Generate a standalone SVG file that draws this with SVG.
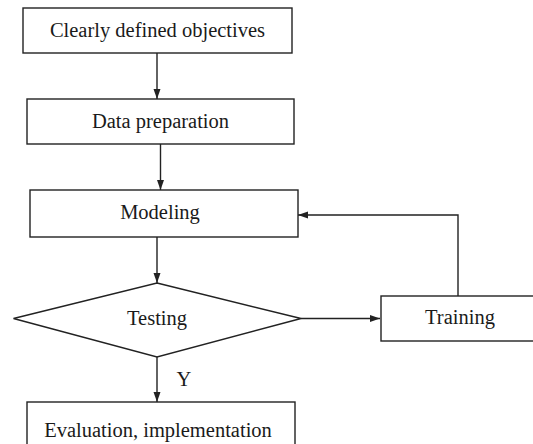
<svg xmlns="http://www.w3.org/2000/svg" width="533" height="444" viewBox="0 0 533 444">
<style>
.box{fill:#fff;stroke:#222;stroke-width:1.4}
.lbl{font-family:"Liberation Serif","Times New Roman",serif;font-size:20.5px;fill:#1a1a1a;text-anchor:middle}
.edge{fill:none;stroke:#222;stroke-width:1.4}
</style>
<defs>
<marker id="ah" viewBox="0 0 10 10" refX="10" refY="5" markerWidth="10" markerHeight="10" markerUnits="userSpaceOnUse" orient="auto">
<path d="M0,1.5 L10,5 L0,8.5 Z" fill="#222"/>
</marker>
</defs>
<rect width="533" height="444" fill="#fff"/>
<g id="connectors">
<line class="edge" x1="157" y1="53" x2="157" y2="99" marker-end="url(#ah)"/>
<line class="edge" x1="160.5" y1="144" x2="160.5" y2="190" marker-end="url(#ah)"/>
<line class="edge" x1="157" y1="237" x2="157" y2="283" marker-end="url(#ah)"/>
<line class="edge" x1="301" y1="318.5" x2="380" y2="318.5" marker-end="url(#ah)"/>
<polyline class="edge" points="458,296 458,215 298,215" marker-end="url(#ah)"/>
<line class="edge" x1="157" y1="357" x2="157" y2="402" marker-end="url(#ah)"/>
<text class="lbl" x="184" y="386">Y</text>
</g>
<g id="n1">
<rect class="box" x="23" y="8" width="269" height="45"/>
<text class="lbl" x="157.5" y="37">Clearly defined objectives</text>
</g>
<g id="n2">
<rect class="box" x="27" y="99" width="267" height="45"/>
<text class="lbl" x="160.5" y="128">Data preparation</text>
</g>
<g id="n3">
<rect class="box" x="30" y="190" width="268" height="47"/>
<text class="lbl" x="160" y="219">Modeling</text>
</g>
<g id="n4">
<polygon class="box" points="157,283 301,318.5 157,357 13.5,318.5"/>
<text class="lbl" x="157" y="325">Testing</text>
</g>
<g id="n5">
<rect class="box" x="381" y="296" width="155" height="45"/>
<text class="lbl" x="460" y="324">Training</text>
</g>
<g id="n6">
<rect class="box" x="27" y="402" width="268" height="46"/>
<text class="lbl" x="158" y="437">Evaluation, implementation</text>
</g>
</svg>
